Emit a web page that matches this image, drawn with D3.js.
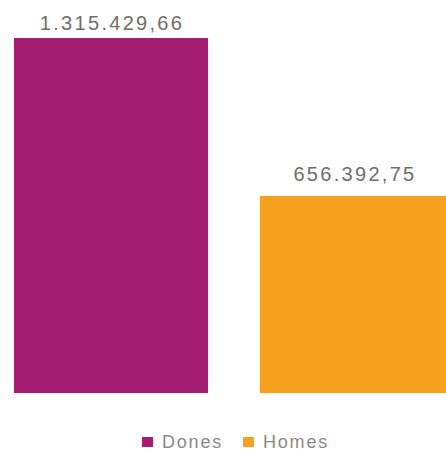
<!DOCTYPE html>
<html>
<head>
<meta charset="utf-8">
<script src="https://cdn.jsdelivr.net/npm/d3@7"></script>
<style>
  body{margin:0;background:#fff;}
  text{font-family:"Liberation Sans",Arial,sans-serif;}
</style>
</head>
<body>
<div id="chart"></div>
<script>
const categories=["Dones","Homes"];
const values=[1315429.66,656392.75];
const labels=["1.315.429,66","656.392,75"];
const colors=["#a41f72","#f6a11e"];

const w=446;
const h=455;

const svg=d3.select("#chart")
  .append("svg")
  .attr("width",w)
  .attr("height",h);

const xScale=d3.scaleBand()
  .domain(categories)
  .range([14,454])
  .paddingInner(0.211)
  .paddingOuter(0);

const yScale=d3.scaleLinear()
  .domain([-165000,1315429.66])
  .range([393,38]);

svg.selectAll("rect.bar")
  .data(values)
  .enter()
  .append("rect")
  .attr("class","bar")
  .attr("x",(d,i)=>xScale(categories[i]))
  .attr("y",d=>yScale(d))
  .attr("width",xScale.bandwidth())
  .attr("height",d=>yScale.range()[0]-yScale(d))
  .attr("fill",(d,i)=>colors[i]);

const labelGap=[8,15];
svg.selectAll("text.val")
  .data(values)
  .enter()
  .append("text")
  .attr("class","val")
  .text((d,i)=>labels[i])
  .attr("x",(d,i)=>i===0?xScale(categories[i])+xScale.bandwidth()/2+1:355)
  .attr("y",(d,i)=>yScale(d)-labelGap[i])
  .attr("text-anchor","middle")
  .style("font-size","20px")
  .style("letter-spacing","2.3px")
  .attr("fill","#6e6e6e");

// legend
const legend=svg.append("g");
const items=[{x:142,label:categories[0],color:colors[0]},{x:243,label:categories[1],color:colors[1]}];
items.forEach(it=>{
  legend.append("rect")
    .attr("x",it.x)
    .attr("y",437)
    .attr("width",11)
    .attr("height",10)
    .attr("fill",it.color);
  legend.append("text")
    .text(it.label)
    .attr("x",it.x+20)
    .attr("y",448)
    .style("font-size","18px")
    .style("letter-spacing","1.8px")
    .attr("fill","#8a8a8a");
});
</script>
</body>
</html>
